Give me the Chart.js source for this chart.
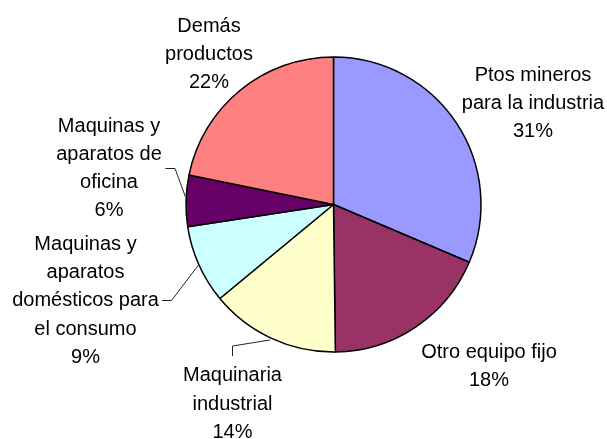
<!DOCTYPE html>
<html>
<head>
<meta charset="utf-8">
<script src="https://cdn.jsdelivr.net/npm/chart.js@4/dist/chart.umd.min.js"></script>
<style>
  html, body { margin: 0; padding: 0; background: #fff; }
  #wrap { width: 607px; height: 439px; }
</style>
</head>
<body>
<div id="wrap"><canvas id="c" width="607" height="439"></canvas></div>
<script>
// ---- data ----
const categories = [
  "Ptos mineros\npara la industria",
  "Otro equipo fijo",
  "Maquinaria\nindustrial",
  "Maquinas y\naparatos\ndomésticos para\nel consumo",
  "Maquinas y\naparatos de\noficina",
  "Demás\nproductos"
];
const values = [31.4, 18.4, 14.2, 8.6, 5.6, 21.8];
const colors = ["#9999FF", "#993366", "#FFFFCC", "#CCFFFF", "#660066", "#FF8080"];

// ---- label layout (center x, first baseline, leader line points) ----
const labelLayout = [
  { x: 533, y: 81,   leader: null },
  { x: 489, y: 358,  leader: null },
  { x: 232.5, y: 381.3, leader: [[232.5, 356], [232.5, 346], [270, 340]] },
  { x: 85.5, y: 250, leader: [[162, 300.5], [171.5, 300.5], [198.5, 265]] },
  { x: 109, y: 131.7, leader: [[165.5, 168.5], [175, 168.5], [185.5, 197]] },
  { x: 209, y: 31.5, leader: null }
];
const lineHeight = 28.2;

const total = values.reduce((a, b) => a + b, 0);

const labelPlugin = {
  id: 'pieLabels',
  afterDatasetsDraw(chart) {
    const ctx = chart.ctx;
    ctx.save();
    // leader lines
    ctx.strokeStyle = '#222';
    ctx.lineWidth = 1;
    labelLayout.forEach(l => {
      if (!l.leader) return;
      ctx.beginPath();
      l.leader.forEach((p, i) => i ? ctx.lineTo(p[0], p[1]) : ctx.moveTo(p[0], p[1]));
      ctx.stroke();
    });
    // text
    ctx.fillStyle = '#000';
    ctx.font = '20px "Liberation Sans", Arial, sans-serif';
    ctx.textAlign = 'center';
    ctx.textBaseline = 'alphabetic';
    chart.data.labels.forEach((lab, i) => {
      const lines = lab.split('\n');
      lines.push(Math.round(chart.data.datasets[0].data[i] / total * 100) + '%');
      const L = labelLayout[i];
      lines.forEach((t, k) => ctx.fillText(t, L.x, L.y + k * lineHeight));
    });
    ctx.restore();
  }
};

new Chart(document.getElementById('c'), {
  type: 'pie',
  data: {
    labels: categories,
    datasets: [{
      data: values,
      backgroundColor: colors,
      borderColor: '#000',
      borderWidth: 1.5
    }]
  },
  options: {
    responsive: false,
    animation: false,
    radius: 147.5,
    layout: { padding: { left: 60, right: 0, top: 0, bottom: 30 } },
    plugins: {
      legend: { display: false },
      tooltip: { enabled: false }
    }
  },
  plugins: [labelPlugin]
});
</script>
</body>
</html>
